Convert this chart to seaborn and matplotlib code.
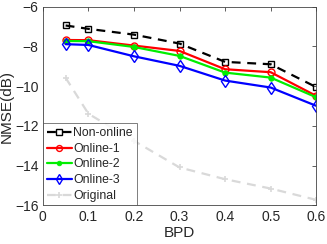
import matplotlib
matplotlib.use("Agg")
import matplotlib.pyplot as plt
import seaborn as sns
import pandas as pd

# values
bpd = [0.05, 0.1, 0.2, 0.3, 0.4, 0.5, 0.6]
non_online = [-6.95, -7.12, -7.41, -7.86, -8.78, -8.90, -10.05]
online_1 = [-7.68, -7.69, -7.96, -8.23, -9.15, -9.30, -10.49]
online_2 = [-7.73, -7.74, -8.03, -8.48, -9.32, -9.57, -10.56]
online_3 = [-7.89, -7.93, -8.50, -8.98, -9.72, -10.07, -10.99]
original = [-9.58, -11.39, -12.75, -14.09, -14.68, -15.15, -15.72]

x_ticks = [0, 0.1, 0.2, 0.3, 0.4, 0.5, 0.6]
y_ticks = [-16, -14, -12, -10, -8, -6]

sns.set_style("white")
plt.rcParams['font.family'] = ['Liberation Sans', 'DejaVu Sans']

fig = plt.figure(figsize=(3.27, 2.44), dpi=100)
ax = fig.add_axes([0.131, 0.158, 0.836, 0.815])

series = [
    ("Non-online", non_online, dict(color="black", linestyle=(0, (4, 3)), marker="s", markersize=4.5,
                                     markerfacecolor="none", markeredgecolor="black",
                                     markeredgewidth=1.0, linewidth=1.6)),
    ("Online-1", online_1, dict(color="red", linestyle="-", marker="o", markersize=5,
                                 markerfacecolor="none", markeredgecolor="red",
                                 markeredgewidth=1.0, linewidth=1.6)),
    ("Online-2", online_2, dict(color="#00ee00", linestyle="-", marker="o", markersize=4,
                                 markerfacecolor="#00ee00", markeredgecolor="#00ee00",
                                 markeredgewidth=0.5, linewidth=1.6)),
    ("Online-3", online_3, dict(color="blue", linestyle="-", marker="d", markersize=6,
                                 markerfacecolor="none", markeredgecolor="blue",
                                 markeredgewidth=1.0, linewidth=1.6)),
    ("Original", original, dict(color="#d9d9d9", linestyle=(0, (4, 3)), marker="+", markersize=5,
                                 markeredgecolor="#d9d9d9", markeredgewidth=1.2, linewidth=1.6)),
]

for name, vals, style in series:
    df = pd.DataFrame({"BPD": bpd, "NMSE": vals})
    sns.lineplot(data=df, x="BPD", y="NMSE", ax=ax, label=name)
    # seaborn overrides some marker kwargs, so apply the style to the drawn line
    ax.lines[-1].set(**style)

ax.set_xlim(0, 0.6)
ax.set_ylim(-16, -6)
ax.set_xticks(x_ticks)
ax.set_xticklabels(["0", "0.1", "0.2", "0.3", "0.4", "0.5", "0.6"])
ax.set_yticks(y_ticks)
ax.set_xlabel("BPD", fontsize=11, labelpad=2)
ax.set_ylabel("NMSE(dB)", fontsize=11, labelpad=1)
ax.tick_params(direction="in", length=3, width=0.6, labelsize=10, top=True, right=True,
               color="#444444", pad=3)
for s in ax.spines.values():
    s.set_linewidth(0.6)
    s.set_color("#444444")

leg = ax.legend(loc="lower left", fontsize=8.8, frameon=True, fancybox=False,
                borderaxespad=0, handlelength=2.1, handletextpad=0.1,
                labelspacing=0.3, borderpad=0.3, markerscale=0.85)
leg.get_frame().set_edgecolor("#444444")
leg.get_frame().set_linewidth(0.6)

fig.savefig("out.png", dpi=100)
